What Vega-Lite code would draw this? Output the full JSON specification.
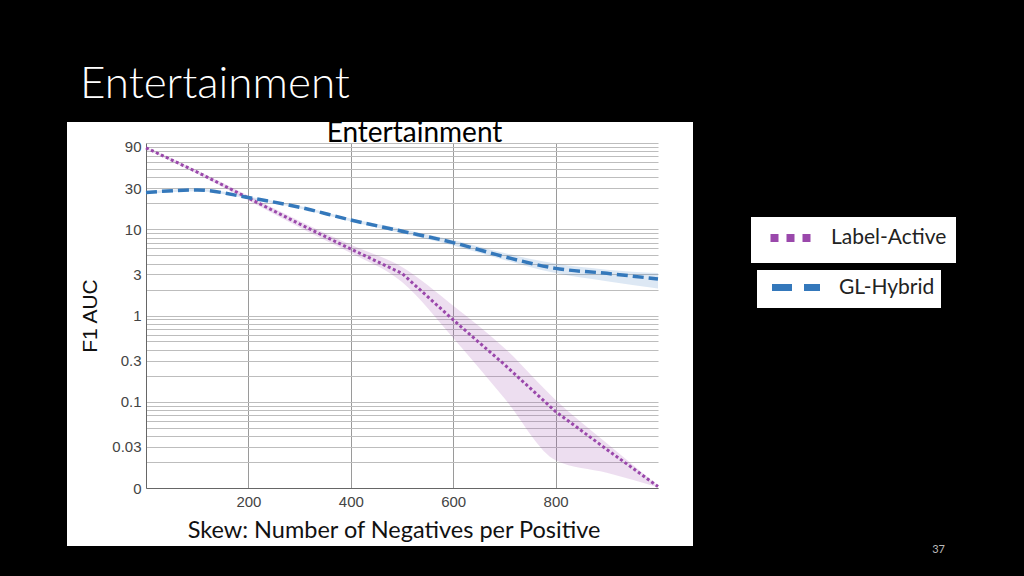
{
  "$schema": "https://vega.github.io/schema/vega-lite/v6.json",
  "width": 626,
  "height": 424,
  "autosize": {"type": "none"},
  "padding": {"left": 67, "top": 122, "right": 331, "bottom": 30},
  "background": "black",
  "title": {"text": "Entertainment", "color": "white", "font": "Lato", "fontWeight": 300, "fontSize": 44, "anchor": "start", "frame": "group", "baseline": "alphabetic", "offset": 24, "dx": 13, "dy": 47},
  "data": {"values": [
    {"series": "Label-Active", "x": 0, "y": 88, "lo": 86, "hi": 90},
    {"series": "Label-Active", "x": 100, "y": 46, "lo": 44, "hi": 48},
    {"series": "Label-Active", "x": 200, "y": 23, "lo": 21.5, "hi": 24.5},
    {"series": "Label-Active", "x": 300, "y": 11.5, "lo": 10.5, "hi": 12.5},
    {"series": "Label-Active", "x": 400, "y": 5.9, "lo": 5.3, "hi": 6.6},
    {"series": "Label-Active", "x": 500, "y": 3.08, "lo": 2.45, "hi": 3.65},
    {"series": "Label-Active", "x": 600, "y": 0.89, "lo": 0.55, "hi": 1.3},
    {"series": "Label-Active", "x": 700, "y": 0.27, "lo": 0.11, "hi": 0.42},
    {"series": "Label-Active", "x": 800, "y": 0.077, "lo": 0.021, "hi": 0.105},
    {"series": "Label-Active", "x": 900, "y": 0.028, "lo": 0.015, "hi": 0.033},
    {"series": "Label-Active", "x": 1000, "y": 0.0104, "lo": 0.0102, "hi": 0.0106},
    {"series": "GL-Hybrid", "x": 0, "y": 26.7, "lo": 25.5, "hi": 27.5},
    {"series": "GL-Hybrid", "x": 100, "y": 28.5, "lo": 27.5, "hi": 29.5},
    {"series": "GL-Hybrid", "x": 200, "y": 23.3, "lo": 22.5, "hi": 24},
    {"series": "GL-Hybrid", "x": 300, "y": 18, "lo": 17.4, "hi": 18.6},
    {"series": "GL-Hybrid", "x": 400, "y": 12.8, "lo": 12.3, "hi": 13.3},
    {"series": "GL-Hybrid", "x": 500, "y": 9.5, "lo": 9, "hi": 10.1},
    {"series": "GL-Hybrid", "x": 600, "y": 7.0, "lo": 6.5, "hi": 7.5},
    {"series": "GL-Hybrid", "x": 700, "y": 4.8, "lo": 4.4, "hi": 5.3},
    {"series": "GL-Hybrid", "x": 800, "y": 3.52, "lo": 3.1, "hi": 4.0},
    {"series": "GL-Hybrid", "x": 900, "y": 3.08, "lo": 2.5, "hi": 3.4},
    {"series": "GL-Hybrid", "x": 1000, "y": 2.65, "lo": 2.05, "hi": 3.1}
  ]},
  "config": {
    "view": {"fill": "white", "stroke": null},
    "axis": {"ticks": false, "tickSize": 0, "domainColor": "#666666", "labelFont": "Liberation Sans", "labelFontSize": 15, "labelColor": "#444444", "titleFontWeight": "normal", "titleColor": "#111111"}
  },
  "resolve": {"scale": {"color": "independent"}, "axis": {"x": "independent", "y": "independent"}},
  "layer": [
    {
      "transform": [{"filter": "datum.series == 'Label-Active'"}],
      "mark": {"type": "area", "interpolate": "monotone", "fill": "#9a48ab", "opacity": 0.18},
      "encoding": {
        "x": {"field": "x", "type": "quantitative", "scale": {"domain": [0, 1000], "range": [79, 591]},
          "axis": {"orient": "bottom", "offset": -58, "values": [200, 400, 600, 800], "grid": false, "labelPadding": 6, "labelFlush": false,
            "title": "Skew: Number of Negatives per Positive", "titleFont": "Lato", "titleFontSize": 23.5, "titleX": 326.5, "titleY": 49, "titleAlign": "center", "titleBaseline": "alphabetic"}},
        "y": {"field": "lo", "type": "quantitative", "scale": {"type": "log", "domain": [0.01, 100], "range": [366, 21]},
          "axis": {"orient": "left", "offset": -79, "grid": true, "gridColor": "#bdbdbd", "labelOverlap": false, "labelPadding": 5,
            "values": [0.01, 0.02, 0.03, 0.04, 0.05, 0.06, 0.07, 0.08, 0.09, 0.1, 0.2, 0.3, 0.4, 0.5, 0.6, 0.7, 0.8, 0.9, 1, 2, 3, 4, 5, 6, 7, 8, 9, 10, 20, 30, 40, 50, 60, 70, 80, 90, 100],
            "labelExpr": "datum.value == 0.01 ? '0' : (indexof([90, 30, 10, 3, 1, 0.3, 0.1, 0.03], datum.value) >= 0 ? format(datum.value, '~g') : '')",
            "title": "F1 AUC", "titleFont": "Liberation Sans", "titleFontSize": 21, "titlePadding": 11}},
        "y2": {"field": "hi"}
      }
    },
    {
      "transform": [{"filter": "datum.series == 'GL-Hybrid'"}],
      "mark": {"type": "area", "interpolate": "monotone", "fill": "#3478bb", "opacity": 0.17},
      "encoding": {
        "x": {"field": "x", "type": "quantitative", "scale": {"domain": [0, 1000], "range": [79, 591]}, "axis": null},
        "y": {"field": "lo", "type": "quantitative", "scale": {"type": "log", "domain": [0.01, 100], "range": [366, 21]}, "axis": null},
        "y2": {"field": "hi"}
      }
    },
    {
      "transform": [{"filter": "datum.series == 'Label-Active'"}],
      "mark": {"type": "line", "interpolate": "linear", "strokeWidth": 3, "strokeDash": [3, 2.5]},
      "encoding": {
        "x": {"field": "x", "type": "quantitative", "scale": {"domain": [0, 1000], "range": [79, 591]}, "axis": null},
        "y": {"field": "y", "type": "quantitative", "scale": {"type": "log", "domain": [0.01, 100], "range": [366, 21]}, "axis": null},
        "color": {"field": "series", "type": "nominal", "scale": {"domain": ["Label-Active"], "range": ["#9a48ab"]},
          "legend": {"orient": "none", "legendX": 684, "legendY": 95, "title": null, "fillColor": "white", "padding": 9, "symbolType": "M-3,0H3", "symbolSize": 256, "symbolStrokeWidth": 8, "symbolDash": [8, 8], "symbolOffset": 22.5, "labelFont": "Lato", "labelFontSize": 21, "labelColor": "#222222", "labelOffset": 24.5}}
      }
    },
    {
      "transform": [{"filter": "datum.series == 'GL-Hybrid'"}],
      "mark": {"type": "line", "interpolate": "monotone", "strokeWidth": 3.5, "strokeDash": [11, 5]},
      "encoding": {
        "x": {"field": "x", "type": "quantitative", "scale": {"domain": [0, 1000], "range": [79, 591]},
          "axis": {"orient": "top", "offset": -21, "values": [200, 400, 600, 800], "labels": false, "domain": false, "grid": true, "gridColor": "#9a9a9a", "title": "Entertainment", "titleFont": "Lato", "titleFontSize": 28, "titleColor": "#000000", "titleX": 347, "titleY": -2, "titleAlign": "center", "titleBaseline": "alphabetic"}},
        "y": {"field": "y", "type": "quantitative", "scale": {"type": "log", "domain": [0.01, 100], "range": [366, 21]},
          "axis": {"orient": "right", "labels": false, "domain": false, "grid": false, "title": "37", "titleAngle": 0, "titleX": 245, "titleY": 427, "titleAlign": "center", "titleBaseline": "middle", "titleFont": "Lato", "titleFontSize": 11, "titleColor": "#bbbbbb"}},
        "color": {"field": "series", "type": "nominal", "scale": {"domain": ["GL-Hybrid"], "range": ["#3478bb"]},
          "legend": {"orient": "none", "legendX": 690, "legendY": 148, "title": null, "fillColor": "white", "padding": 6, "symbolType": "M-3,0H3", "symbolSize": 256, "symbolStrokeWidth": 7, "symbolDash": [20, 12], "symbolOffset": 21.5, "labelFont": "Lato", "labelFontSize": 21, "labelColor": "#222222", "labelOffset": 31.5}}
      }
    }
  ]
}
